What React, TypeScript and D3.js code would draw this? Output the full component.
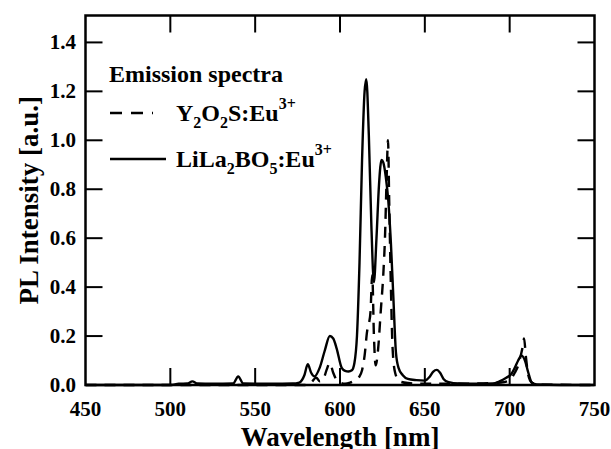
import React, { useEffect, useRef } from "react";
import * as d3 from "d3";

// LiLa2BO5:Eu3+ (solid)
const lilaWl = [
  450, 500, 505, 510, 513, 516, 525, 537, 540, 543,
  560, 572, 576, 579, 581, 583, 585, 588, 591, 594,
  596, 598, 601, 603, 605, 607, 608.5, 610, 611.5, 613,
  614.5, 615.5, 617, 618.5, 620, 621.5, 623, 624.5, 625.5, 627,
  628.5, 630, 631.5, 633, 634.5, 637, 640, 645, 650, 653,
  655, 657, 659, 661, 664, 670, 680, 690, 694, 698,
  701, 703, 705, 707, 709, 711, 713, 716, 730, 750,
];
const lilaI = [
  0, 0, 0.005, 0.006, 0.015, 0.006, 0.005, 0.006, 0.035, 0.006,
  0.005, 0.006, 0.01, 0.04, 0.085, 0.05, 0.035, 0.07, 0.14, 0.2,
  0.19, 0.15, 0.07, 0.058, 0.055, 0.06, 0.09, 0.2, 0.5, 0.92,
  1.2, 1.25, 1.02, 0.65, 0.42, 0.6, 0.82, 0.92, 0.91, 0.85,
  0.75, 0.58, 0.35, 0.13, 0.07, 0.04, 0.025, 0.02, 0.018, 0.035,
  0.055, 0.062, 0.05, 0.025, 0.012, 0.006, 0.005, 0.006, 0.015, 0.03,
  0.045, 0.07, 0.1, 0.12, 0.1, 0.05, 0.01, 0.002, 0, 0,
];

// Y2O2S:Eu3+ (dashed)
const yosWl = [
  450, 580, 583, 586, 588, 590, 592, 594, 596, 598,
  600, 603, 606, 609, 611, 613, 614.5, 616, 617, 618,
  619, 620, 621, 622.5, 624, 625.5, 626.5, 627.5, 628.3, 629,
  630, 631, 632.5, 635, 640, 650, 660, 680, 695, 700,
  703, 705, 706.5, 707.5, 708.5, 709.5, 711, 713, 716, 750,
];
const yosI = [
  0, 0, 0.01, 0.03, 0.015, 0.02, 0.06, 0.09, 0.05, 0.02,
  0.01, 0.005, 0.01, 0.02, 0.03, 0.06, 0.12, 0.22, 0.25, 0.3,
  0.45, 0.2, 0.08, 0.15, 0.3, 0.45, 0.6, 0.85, 1.0, 0.75,
  0.4, 0.15, 0.05, 0.015, 0.008, 0.005, 0.005, 0.006, 0.01, 0.02,
  0.05, 0.08, 0.12, 0.15, 0.19, 0.12, 0.04, 0.01, 0.002, 0,
];

const xTicks = [450, 500, 550, 600, 650, 700, 750];
const yTicks = [0, 0.2, 0.4, 0.6, 0.8, 1.0, 1.2, 1.4];

const FONT = "'Liberation Serif', 'Times New Roman', serif";

const App = () => {
  const svgRef = useRef<SVGSVGElement>(null);

  useEffect(() => {
    const svg = d3.select(svgRef.current).attr("width", 611).attr("height", 449);
    svg.selectAll("*").remove();

    const left = 85.5, right = 594.5, top = 15.5, bottom = 385;
    const x = d3.scaleLinear().domain([450, 750]).range([left, right]);
    const y = d3.scaleLinear().domain([0, 1.51]).range([bottom, top]);

    const g = svg.append("g").attr("font-family", FONT).attr("font-weight", "bold");

    const line = d3
      .line<[number, number]>()
      .x((d) => x(d[0]))
      .y((d) => y(d[1]))
      .curve(d3.curveMonotoneX);

    g.append("path")
      .datum(yosWl.map((w, i) => [w, yosI[i]] as [number, number]))
      .attr("d", line)
      .attr("fill", "none")
      .attr("stroke", "#000")
      .attr("stroke-width", 2.4)
      .attr("stroke-dasharray", "11 8");

    g.append("path")
      .datum(lilaWl.map((w, i) => [w, lilaI[i]] as [number, number]))
      .attr("d", line)
      .attr("fill", "none")
      .attr("stroke", "#000")
      .attr("stroke-width", 2.4)
      .attr("stroke-linejoin", "round");

    const tickLen = 17;
    // inward ticks on all four sides
    xTicks.slice(1, -1).forEach((t) => {
      g.append("line").attr("x1", x(t)).attr("x2", x(t)).attr("y1", bottom).attr("y2", bottom - tickLen)
        .attr("stroke", "#000").attr("stroke-width", 2);
      g.append("line").attr("x1", x(t)).attr("x2", x(t)).attr("y1", top).attr("y2", top + tickLen)
        .attr("stroke", "#000").attr("stroke-width", 2);
    });
    yTicks.slice(1).forEach((t) => {
      g.append("line").attr("x1", left).attr("x2", left + tickLen).attr("y1", y(t)).attr("y2", y(t))
        .attr("stroke", "#000").attr("stroke-width", 2);
      g.append("line").attr("x1", right).attr("x2", right - tickLen).attr("y1", y(t)).attr("y2", y(t))
        .attr("stroke", "#000").attr("stroke-width", 2);
    });

    g.append("rect")
      .attr("x", left).attr("y", top)
      .attr("width", right - left).attr("height", bottom - top)
      .attr("fill", "none").attr("stroke", "#000").attr("stroke-width", 2.5);

    g.selectAll(".xl").data(xTicks).enter().append("text")
      .attr("x", (d) => x(d)).attr("y", 416)
      .attr("text-anchor", "middle").attr("font-size", 21)
      .text((d) => d);

    g.selectAll(".yl").data(yTicks).enter().append("text")
      .attr("x", 76).attr("y", (d) => y(d) + 7)
      .attr("text-anchor", "end").attr("font-size", 21)
      .text((d) => d3.format(".1f")(d));

    g.append("text")
      .attr("x", 340).attr("y", 446)
      .attr("text-anchor", "middle").attr("font-size", 27)
      .text("Wavelength [nm]");

    g.append("text")
      .attr("transform", `translate(38,${(top + bottom) / 2}) rotate(-90)`)
      .attr("text-anchor", "middle").attr("font-size", 27)
      .text("PL Intensity [a.u.]");

    // legend
    g.append("text").attr("x", 109).attr("y", 82).attr("font-size", 24).text("Emission spectra");

    g.append("line").attr("x1", 110).attr("x2", 153).attr("y1", 113).attr("y2", 113)
      .attr("stroke", "#000").attr("stroke-width", 2.4).attr("stroke-dasharray", "12 9");
    g.append("line").attr("x1", 110).attr("x2", 166).attr("y1", 159).attr("y2", 159)
      .attr("stroke", "#000").attr("stroke-width", 2.4);

    const addLabel = (base: number, parts: [string, string][]) => {
      const t = g.append("text").attr("x", 176).attr("y", base).attr("font-size", 24);
      parts.forEach(([s, kind]) => {
        const sp = t.append("tspan").text(s);
        if (kind === "sub") sp.attr("y", base + 7).attr("font-size", 16);
        else if (kind === "sup") sp.attr("y", base - 12).attr("font-size", 16);
        else sp.attr("y", base);
      });
    };
    addLabel(121, [["Y", ""], ["2", "sub"], ["O", ""], ["2", "sub"], ["S:Eu", ""], ["3+", "sup"]]);
    addLabel(167, [["LiLa", ""], ["2", "sub"], ["BO", ""], ["5", "sub"], [":Eu", ""], ["3+", "sup"]]);
  }, []);

  return (
    <div style={{ position: "absolute", left: 0, top: 0 }}>
      <svg ref={svgRef} style={{ display: "block" }}></svg>
    </div>
  );
};

export default App;
